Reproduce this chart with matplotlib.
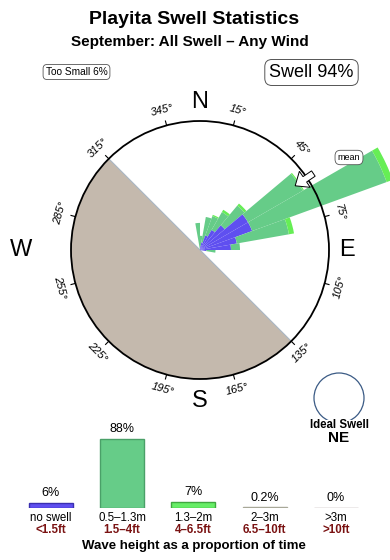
import numpy as np
import matplotlib
matplotlib.use("Agg")
import matplotlib.pyplot as plt
from matplotlib.patches import Wedge, Circle, FancyArrow

plt.rcParams["font.family"] = ["Liberation Sans", "DejaVu Sans"]

W_PX, H_PX = 390, 560

# swell rose: bin centre bearings and stacked radii (compass radius = 1)
bin_centres = [355, 5, 15, 25, 35, 45, 55, 65, 75, 85, 95]
bin_width = 10
r_small = [0.00, 0.03, 0.06, 0.12, 0.18, 0.25, 0.43, 0.43, 0.29, 0.24, 0.05]
r_mid = [0.21, 0.08, 0.20, 0.16, 0.16, 0.20, 0.49, 1.11, 0.41, 0.07, 0.07]
r_big = [0.00, 0.00, 0.00, 0.01, 0.02, 0.02, 0.01, 0.05, 0.04, 0.00, 0.00]
rose_colours = ["#5f4ff0", "#66cc88", "#66ee55"]

land_from, land_to = 135, 315
mean_dir = 56
ideal_dir = "NE"
too_small_pct = 6
swell_pct = 94

# wave height distribution
height_cats = ["no swell", "0.5\u20131.3m", "1.3\u20132m", "2\u20133m", ">3m"]
height_ft = ["<1.5ft", "1.5\u20134ft", "4\u20136.5ft", "6.5\u201310ft", ">10ft"]
height_pct = [6, 88, 7, 0.2, 0]
pct_labels = ["6%", "88%", "7%", "0.2%", "0%"]
bar_colours = ["#5f4ff0", "#66cc88", "#66ee66", "#c8c8b8", "#c8b8b8"]
bar_edges = ["#3a2fb0", "#4aa068", "#3fa83f", "#a8a898", "#a89898"]


def math_angle(bearing):
    """Converts compass bearing to matplotlib angle in degrees."""
    return 90 - bearing


def polar_xy(bearing, r):
    """Returns x, y for a compass bearing and radius."""
    a = np.radians(math_angle(bearing))
    return r * np.cos(a), r * np.sin(a)


fig = plt.figure(figsize=(W_PX / 100, H_PX / 100), dpi=100)

# rose axes, 129 px per unit, centre at (200, 250) px
scale = 129.0
ax = fig.add_axes([0, 140 / H_PX, 1, 340 / H_PX])
ax.set_xlim(-200 / scale, 190 / scale)
ax.set_ylim(-170 / scale, 170 / scale)
ax.axis("off")

ax.add_patch(Wedge((0, 0), 1, math_angle(land_to) + 360, math_angle(land_from) + 360,
                   facecolor="#c4b9ad", edgecolor="none", zorder=1))
x1, y1 = polar_xy(land_from, 1)
x2, y2 = polar_xy(land_to, 1)
ax.plot([x1, x2], [y1, y2], color="#a9b6c4", lw=0.8, zorder=1.5)

for i, c in enumerate(bin_centres):
    t1 = math_angle(c + bin_width / 2)
    t2 = math_angle(c - bin_width / 2)
    inner = 0
    for length, colour in zip([r_small[i], r_mid[i], r_big[i]], rose_colours):
        if length > 0:
            ax.add_patch(Wedge((0, 0), inner + length, t1, t2, width=length,
                               facecolor=colour, edgecolor="none", zorder=2))
        inner += length

ax.add_patch(Circle((0, 0), 1, fill=False, edgecolor="black", lw=1.3, zorder=3))

# ticks and degree labels
for b in range(15, 360, 30):
    xa, ya = polar_xy(b, 1.0)
    xb, yb = polar_xy(b, 1.035)
    ax.plot([xa, xb], [ya, yb], color="black", lw=0.8, zorder=3)
    xt, yt = polar_xy(b, 1.12)
    rot = -b if (b < 90 or b > 270) else 180 - b
    ax.text(xt, yt, f"{b}\u00b0", rotation=rot, rotation_mode="anchor",
            ha="center", va="center", fontsize=8, style="italic", zorder=4)

ax.text(0, 1.147, "N", ha="center", va="center", fontsize=17)
ax.text(0, -1.17, "S", ha="center", va="center", fontsize=17)
ax.text(-1.388, 0, "W", ha="center", va="center", fontsize=17)
ax.text(1.143, 0, "E", ha="center", va="center", fontsize=17)

# mean direction arrow
xs, ys = polar_xy(mean_dir, 1.06)
xe, ye = polar_xy(mean_dir, 0.89)
ax.add_patch(FancyArrow(xs, ys, xe - xs, ye - ys, width=0.05, head_width=0.15,
                        head_length=0.09, length_includes_head=True,
                        facecolor="white", edgecolor="black", lw=0.7, zorder=5))
ax.text((349 - 200) / scale, (250 - 157.5) / scale, "mean", ha="center", va="center",
        fontsize=6.5, zorder=6,
        bbox=dict(boxstyle="round,pad=0.3,rounding_size=0.6", fc="white", ec="#555555", lw=0.6))

# ideal swell circle
ax.add_patch(Circle(((339 - 200) / scale, (250 - 398) / scale), 25 / scale,
                    fill=False, edgecolor="#3b5b85", lw=0.9))


def ftext(px, py, s, **kw):
    fig.text(px / W_PX, 1 - py / H_PX, s, ha="center", va="center", **kw)


ftext(194, 19, "Playita Swell Statistics", fontsize=14, fontweight="bold")
ftext(190, 42, "September: All Swell \u2013 Any Wind", fontsize=11, fontweight="bold")
ftext(76.5, 72, f"Too Small {too_small_pct}%", fontsize=7.3,
      bbox=dict(boxstyle="round,pad=0.25,rounding_size=0.4", fc="white", ec="#555555", lw=0.6))
ftext(311.5, 72.5, f"Swell {swell_pct}%", fontsize=13,
      bbox=dict(boxstyle="round,pad=0.25,rounding_size=0.4", fc="white", ec="#555555", lw=0.7))
ftext(339, 425, "Ideal Swell", fontsize=8.3, fontweight="bold")
ftext(339, 438, ideal_dir, fontsize=11, fontweight="bold")
ftext(194, 546, "Wave height as a proportion of time", fontsize=9.5, fontweight="bold")

# wave height bars
bx = fig.add_axes([15.15 / W_PX, (H_PX - 507.5) / H_PX, 356.5 / W_PX, 78.4 / H_PX])
bx.set_xlim(-0.5, 4.5)
bx.set_ylim(0, 100)
bx.axis("off")
xpos = np.arange(len(height_cats))
bx.bar(xpos, height_pct, width=0.617, color=bar_colours, edgecolor=bar_edges, linewidth=1.0)
for i in xpos:
    bx.annotate(pct_labels[i], (i, height_pct[i]), xytext=(0, 7), textcoords="offset points",
                ha="center", va="center", fontsize=9, annotation_clip=False)
    bx.annotate(height_cats[i], (i, 0), xytext=(0, -7.3), textcoords="offset points",
                ha="center", va="center", fontsize=8.3, annotation_clip=False)
    bx.annotate(height_ft[i], (i, 0), xytext=(0, -16.0), textcoords="offset points",
                ha="center", va="center", fontsize=8.3, fontweight="bold", color="#7a1212",
                annotation_clip=False)

fig.savefig("out.png", dpi=100)
